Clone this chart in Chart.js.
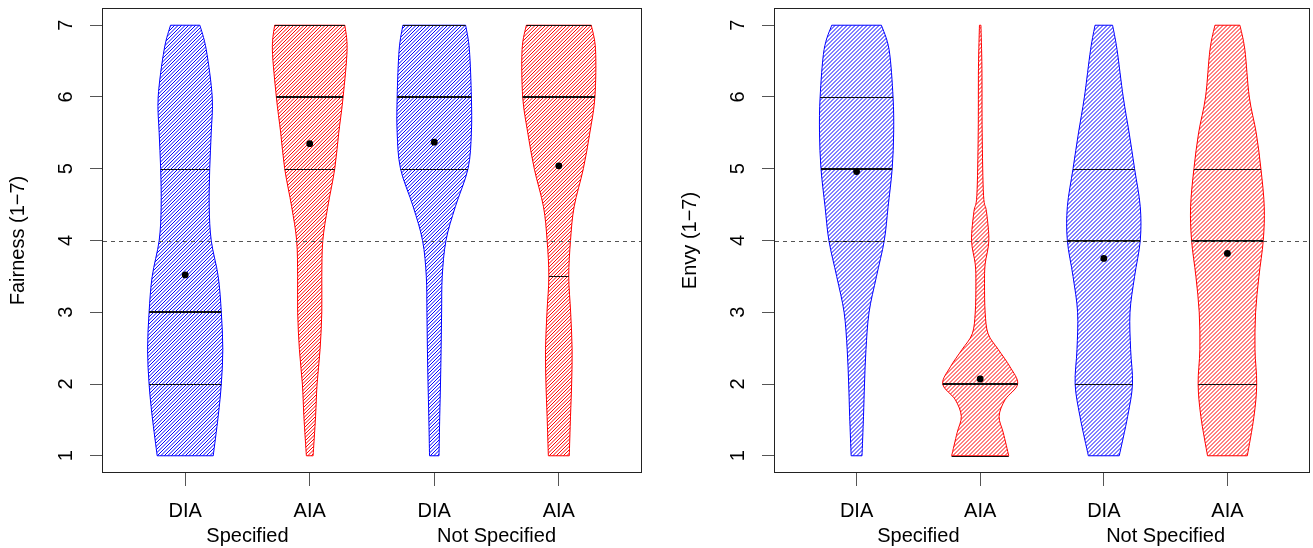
<!DOCTYPE html>
<html>
<head>
<meta charset="utf-8">
<script src="https://cdn.jsdelivr.net/npm/chart.js@4.4.1/dist/chart.umd.min.js"></script>
<style>
  body { margin: 0; background: #fff; }
  #wrap { position: relative; width: 1313px; height: 548px; }
  canvas { position: absolute; top: 0; }
  #fairnessChart { left: 0; }
  #envyChart { left: 672px; }
</style>
</head>
<body>
<div id="wrap">
  <canvas id="fairnessChart" width="672" height="548"></canvas>
  <canvas id="envyChart" width="641" height="548"></canvas>
</div>
<script>
/* Data */

const conditionLabels = ["DIA", "AIA", "DIA", "AIA"];
const groupLabels = ["Specified", "Not Specified"];
const groupCenters = [1.5, 3.5];
const yTickValues = [1, 2, 3, 4, 5, 6, 7];
const neutralLevel = 4;

// response levels where the violin half-widths were read (x-axis units)
const densityLevels = [1, 1.55, 2, 2.48, 3, 3.5, 4, 4.47, 5, 5.5, 6, 6.66, 7];

const fairSpecDIA = [0.225, 0.265, 0.290, 0.302, 0.290, 0.265, 0.209, 0.193, 0.197, 0.209, 0.217, 0.169, 0.118];
const fairSpecAIA = [0.027, 0.047, 0.059, 0.083, 0.097, 0.097, 0.105, 0.145, 0.201, 0.233, 0.268, 0.300, 0.282];
const fairNotDIA = [0.038, 0.044, 0.050, 0.055, 0.059, 0.064, 0.094, 0.169, 0.271, 0.298, 0.298, 0.282, 0.252];
const fairNotAIA = [0.084, 0.094, 0.103, 0.107, 0.095, 0.080, 0.094, 0.123, 0.197, 0.249, 0.290, 0.295, 0.261];

const envySpecDIA = [0.044, 0.056, 0.064, 0.076, 0.101, 0.161, 0.224, 0.255, 0.288, 0.300, 0.295, 0.263, 0.201];
const envySpecAIALevels = [1, 1.32, 1.55, 1.78, 2, 2.24, 2.48, 2.7, 3, 3.4, 3.67, 4, 4.4, 4.63, 5.5, 6.4, 7];
const envySpecAIA = [0.231, 0.187, 0.153, 0.201, 0.303, 0.241, 0.147, 0.064, 0.040, 0.035, 0.040, 0.070, 0.051, 0.027, 0.016, 0.014, 0.006];
const envyNotDIA = [0.125, 0.193, 0.232, 0.217, 0.212, 0.249, 0.295, 0.295, 0.249, 0.205, 0.157, 0.107, 0.071];
const envyNotAIA = [0.161, 0.215, 0.237, 0.223, 0.228, 0.255, 0.290, 0.298, 0.271, 0.233, 0.177, 0.141, 0.101];

const fairnessQ1 = [2, 5, 5, 3.5];
const fairnessMedian = [3, 6, 6, 6];
const fairnessQ3 = [5, 7, 7, 7];
const fairnessMean = [3.52, 5.35, 5.37, 5.04];

const envyQ1 = [4, 1, 2, 2];
const envyMedian = [5, 2, 4, 4];
const envyQ3 = [6, 2, 5, 5];
const envyMean = [4.96, 2.07, 3.75, 3.82];

const violinColors = ["#0000ff", "#ff0000", "#0000ff", "#ff0000"];

const FONT = "Liberation Sans, Arial, Helvetica, sans-serif";

/* helpers */

function widthAt(levels, widths, value) {
    for (let k = 0; k < levels.length - 1; k++) {
        if (value >= levels[k] && value <= levels[k + 1]) {
            const t = (value - levels[k]) / (levels[k + 1] - levels[k]);
            return widths[k] + t * (widths[k + 1] - widths[k]);
        }
    }
    return value < levels[0] ? widths[0] : widths[widths.length - 1];
}

function smoothTo(path, pts) {
    for (let i = 0; i < pts.length - 1; i++) {
        const p0 = pts[Math.max(i - 1, 0)];
        const p1 = pts[i];
        const p2 = pts[i + 1];
        const p3 = pts[Math.min(i + 2, pts.length - 1)];
        path.bezierCurveTo(
            p1.x + (p2.x - p0.x) / 6, p1.y + (p2.y - p0.y) / 6,
            p2.x - (p3.x - p1.x) / 6, p2.y - (p3.y - p1.y) / 6,
            p2.x, p2.y
        );
    }
}

function violinPlugin(panel) {
    return {
        id: "violins",
        beforeDatasetsDraw(chart) {
            const { ctx, chartArea, scales: { x, y } } = chart;

            panel.widths.forEach((widths, i) => {
                const levels = panel.levels[i];
                const center = i + 1;
                const right = levels.map((lv, k) => ({
                    x: x.getPixelForValue(center + widths[k]),
                    y: y.getPixelForValue(lv)
                }));
                const left = levels.map((lv, k) => ({
                    x: x.getPixelForValue(center - widths[k]),
                    y: y.getPixelForValue(lv)
                })).reverse();

                const shape = new Path2D();
                shape.moveTo(left[left.length - 1].x, left[left.length - 1].y);
                shape.lineTo(right[0].x, right[0].y);
                smoothTo(shape, right);
                shape.lineTo(left[0].x, left[0].y);
                smoothTo(shape, left);
                shape.closePath();

                // hatching clipped to the violin
                ctx.save();
                ctx.clip(shape);
                const minX = Math.floor(Math.min(...left.map(p => p.x))) - 4;
                const maxX = Math.ceil(Math.max(...right.map(p => p.x))) + 4;
                const minY = Math.floor(right[right.length - 1].y) - 4;
                const maxY = Math.ceil(right[0].y) + 4;
                ctx.strokeStyle = violinColors[i];
                ctx.lineWidth = 1;
                ctx.beginPath();
                const h = panel.hatch;
                for (let c = Math.floor((minX + minY) / h) * h + 0.5; c <= maxX + maxY; c += h) {
                    ctx.moveTo(c - maxY, maxY);
                    ctx.lineTo(c - minY, minY);
                }
                ctx.stroke();
                ctx.restore();

                ctx.save();
                ctx.strokeStyle = violinColors[i];
                ctx.lineWidth = 1;
                ctx.stroke(shape);
                ctx.restore();

                // quartile and median lines
                const drawLevel = (value, lw) => {
                    const w = widthAt(levels, widths, value);
                    const py = Math.round(y.getPixelForValue(value)) + (lw === 1 ? 0.5 : 0);
                    ctx.save();
                    ctx.strokeStyle = "#111";
                    ctx.lineWidth = lw;
                    ctx.beginPath();
                    ctx.moveTo(x.getPixelForValue(center - w), py);
                    ctx.lineTo(x.getPixelForValue(center + w), py);
                    ctx.stroke();
                    ctx.restore();
                };
                drawLevel(panel.q1[i], 1);
                drawLevel(panel.q3[i], 1);
                drawLevel(panel.median[i], 2);
            });

            // dashed reference line
            const yRef = Math.round(y.getPixelForValue(neutralLevel)) + 0.5;
            ctx.save();
            ctx.strokeStyle = "#555";
            ctx.lineWidth = 1;
            ctx.setLineDash([4, 4]);
            ctx.beginPath();
            ctx.moveTo(chartArea.left, yRef);
            ctx.lineTo(chartArea.right, yRef);
            ctx.stroke();
            ctx.restore();
        },
        afterDraw(chart) {
            const { ctx, chartArea, scales: { x, y } } = chart;
            ctx.save();
            // plot box
            ctx.strokeStyle = "#222";
            ctx.lineWidth = 1;
            ctx.strokeRect(chartArea.left - 0.5, chartArea.top + 0.5,
                chartArea.right - chartArea.left + 1, chartArea.bottom - chartArea.top - 1);

            ctx.fillStyle = "#000";
            ctx.font = "20px " + FONT;
            // rotated y tick labels
            yTickValues.forEach(v => {
                ctx.save();
                ctx.translate(chartArea.left - 37, y.getPixelForValue(v));
                ctx.rotate(-Math.PI / 2);
                ctx.textAlign = "center";
                ctx.textBaseline = "middle";
                ctx.fillText(String(v), 0, 0);
                ctx.restore();
            });
            // group labels under the category labels
            ctx.textAlign = "center";
            ctx.textBaseline = "alphabetic";
            groupLabels.forEach((label, g) => {
                ctx.fillText(label, x.getPixelForValue(groupCenters[g]), 542);
            });
            ctx.restore();
        }
    };
}

function makeChart(canvas, panel) {
    return new Chart(canvas, {
        type: "scatter",
        data: {
            datasets: [
                {
                    label: "Mean",
                    data: panel.mean.map((m, i) => ({ x: i + 1, y: m })),
                    backgroundColor: "#000",
                    borderWidth: 0,
                    pointRadius: 3.4
                }
            ]
        },
        options: {
            responsive: false,
            animation: false,
            layout: {
                padding: { left: 0, right: panel.padRight, top: 8, bottom: 0 }
            },
            plugins: {
                legend: { display: false },
                tooltip: { enabled: false }
            },
            scales: {
                x: {
                    type: "linear",
                    min: 0.34,
                    max: 4.66,
                    afterBuildTicks: scale => {
                        scale.ticks = conditionLabels.map((_, i) => ({ value: i + 1 }));
                    },
                    afterFit: scale => { scale.height = 75; },
                    grid: { drawOnChartArea: false, tickLength: 13, color: "#555" },
                    border: { display: false },
                    ticks: {
                        autoSkip: false,
                        maxRotation: 0,
                        padding: 13,
                        color: "#000",
                        font: { family: FONT, size: 20 },
                        callback: value => conditionLabels[value - 1]
                    }
                },
                y: {
                    min: 0.76,
                    max: 7.24,
                    afterBuildTicks: scale => {
                        scale.ticks = yTickValues.map(v => ({ value: v }));
                    },
                    afterFit: scale => { scale.width = 103; },
                    grid: { drawOnChartArea: false, tickLength: 13, color: "#555" },
                    border: { display: false },
                    ticks: { display: false },
                    title: {
                        display: true,
                        text: panel.title,
                        color: "#000",
                        font: { family: FONT, size: 20 },
                        padding: { top: 6, bottom: 0 }
                    }
                }
            }
        },
        plugins: [violinPlugin(panel)]
    });
}

makeChart(document.querySelector("#fairnessChart"), {
    title: "Fairness (1\u22127)",
    widths: [fairSpecDIA, fairSpecAIA, fairNotDIA, fairNotAIA],
    levels: [densityLevels, densityLevels, densityLevels, densityLevels],
    q1: fairnessQ1,
    median: fairnessMedian,
    q3: fairnessQ3,
    mean: fairnessMean,
    hatch: 3.5,
    padRight: 31
});

makeChart(document.querySelector("#envyChart"), {
    title: "Envy (1\u22127)",
    widths: [envySpecDIA, envySpecAIA, envyNotDIA, envyNotAIA],
    levels: [densityLevels, envySpecAIALevels, densityLevels, densityLevels],
    q1: envyQ1,
    median: envyMedian,
    q3: envyQ3,
    mean: envyMean,
    hatch: 4,
    padRight: 2
});
</script>
</body>
</html>
